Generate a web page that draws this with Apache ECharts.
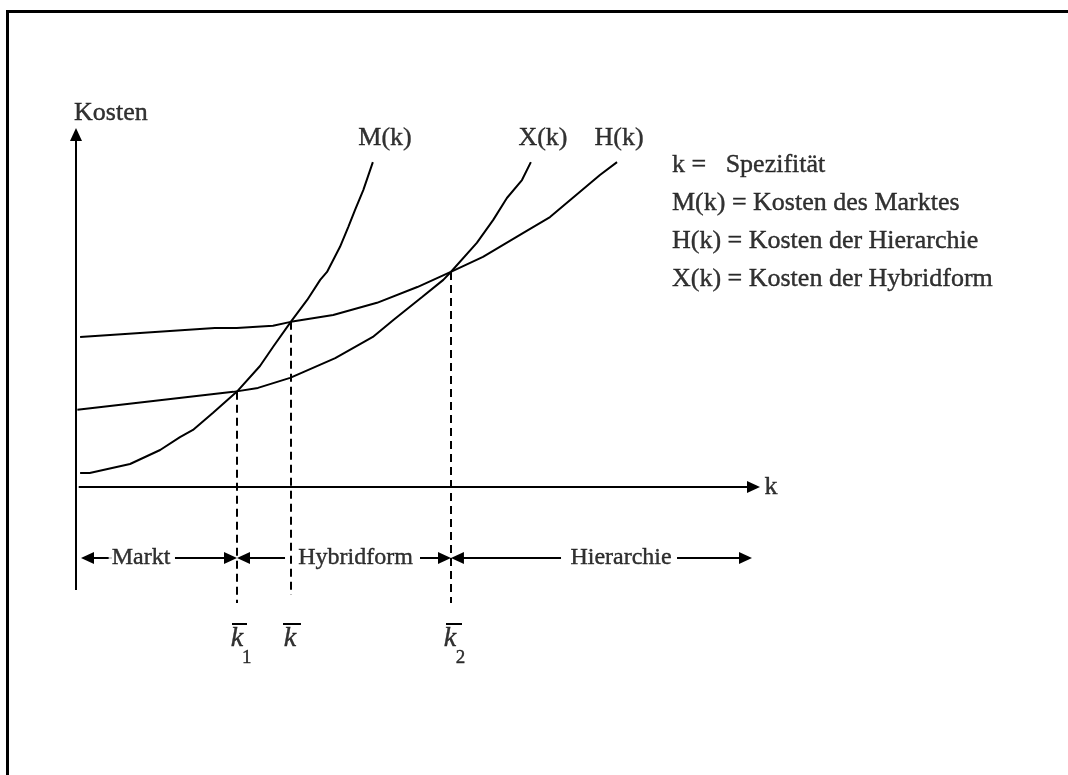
<!DOCTYPE html>
<html><head><meta charset="utf-8">
<script src="https://cdn.jsdelivr.net/npm/echarts@6/dist/echarts.min.js"></script>
<style>html,body{margin:0;padding:0;background:#fff}#c{width:1068px;height:775px}</style>
</head><body><div id="c"></div>
<script>
// Curves (k, cost)
const marketCost = [[0.6,3.9],[2.0,3.9],[7.9,6.4],[12.3,10.3],[15.2,13.9],[17.1,15.9],[20.0,20.6],[23.5,26.5],[26.9,33.7],[28.8,39.0],[31.4,46.0],[33.8,52.1],[35.7,57.7],[36.7,59.9],[38.6,66.9],[39.8,72.4],[40.8,77.2],[42.0,82.7],[43.4,90.5]];
const hybridCost = [[0.2,21.5],[23.0,26.5],[26.6,27.6],[31.3,30.4],[37.9,35.9],[43.4,41.8],[46.4,46.5],[50.6,52.9],[53.7,57.7],[54.8,59.9],[58.6,68.0],[61.0,74.4],[63.0,80.5],[65.2,85.5],[66.5,90.5]];
const hierarchyCost = [[0.6,41.8],[20.3,44.3],[23.5,44.3],[28.8,44.9],[31.4,46.0],[37.6,47.9],[44.0,51.3],[49.9,55.7],[54.8,59.9],[59.5,64.1],[65.4,70.8],[69.3,75.2],[76.6,86.9],[79.1,90.5]];

// Critical specificities and their intersection heights
const kPoints = [23.54, 31.43, 54.82];
const kTops = [26.5, 46.0, 59.9];
const kBottoms = [-32.3, -30.1, -32.3];

// Axes extents (end = centre of the arrowhead)
const axisY = [[0, -28.7], [0, 98.2]];
const axisX = [[0.4, 0], [99.05, 0]];

// Region arrows (from -> to, arrowhead centred at 'to')
const regionRowY = -19.8;
const regionSegments = [[5.26, 1.68], [14.47, 22.59], [30.56, 24.49], [50.29, 53.87], [70.91, 55.77], [87.87, 97.88]];
const regionNames = ['Markt', 'Hybridform', 'Hierarchie'];
const regionCenters = [9.5, 40.86, 79.68];

// Text labels
const curveLabels = [['M(k)', 45.18, 97.2], ['X(k)', 68.27, 97.2], ['H(k)', 79.39, 97.2]];
const axisLabels = [['Kosten', 5.1, 104.0], ['k', 101.6, 0]];
const legendLines = ['k =   Spezifität', 'M(k) = Kosten des Marktes', 'H(k) = Kosten der Hierarchie', 'X(k) = Kosten der Hybridform'];
const legendX = 87.13;
const legendY = [89.69, 79.11, 68.52, 57.94];
const kGlyphs = [['k', 23.54], ['k', 31.29], ['k', 54.68]];
const kGlyphY = -42.3;
const kSubs = [['1', 24.95], ['2', 56.2]];
const kSubY = -47.6;
const overlines = [[22.81, 25.0], [30.26, 32.89], [54.09, 56.43]];
const overlineY = -38.16;

const FONT = '"Liberation Serif", "Times New Roman", serif';
const chart = echarts.init(document.getElementById('c'), null, {renderer: 'canvas'});

function textSeries(items, opts) {
  return Object.assign({
    type: 'scatter', symbolSize: 0, silent: true, clip: false, z: 5,
    data: items.map(function (t) { return {name: t[0], value: [t[1], t[2]]}; }),
    label: Object.assign({
      show: true, position: 'inside', formatter: '{b}', color: '#000',
      textBorderColor: '#000', textBorderWidth: 0.4,
      fontFamily: FONT, fontSize: 26, align: 'center', verticalAlign: 'middle'
    }, opts.label || {})
  }, opts.extra || {});
}

const solid = {color: '#000', width: 2, type: 'solid'};

const option = {
  animation: false,
  backgroundColor: '#fff',
  grid: {left: 76, top: 92.1, width: 957.6, height: 610.3},
  xAxis: {type: 'value', min: 0, max: 140, show: false},
  yAxis: {type: 'value', min: -60, max: 110, show: false},
  graphic: [{
    type: 'polyline', silent: true,
    shape: {points: [[7.5, 775], [7.5, 11.5], [1068, 11.5]]},
    style: {stroke: '#000', lineWidth: 3, fill: null}
  }],
  series: [
    {type: 'line', name: 'M', data: marketCost, showSymbol: false, symbol: 'none', silent: true,
     lineStyle: solid,
     markLine: {
       silent: true, symbol: ['none', 'triangle'], symbolSize: [12, 13],
       label: {show: false}, lineStyle: solid, emphasis: {disabled: true},
       data: [
         [{coord: axisY[0]}, {coord: axisY[1]}],
         [{coord: axisX[0]}, {coord: axisX[1]}]
       ].concat(regionSegments.map(function (s) { return [{coord: [s[0], regionRowY]}, {coord: [s[1], regionRowY]}]; }))
     }},
    {type: 'line', name: 'X', data: hybridCost, showSymbol: false, symbol: 'none', silent: true,
     lineStyle: solid,
     markLine: {
       silent: true, symbol: ['none', 'none'], label: {show: false}, emphasis: {disabled: true},
       lineStyle: {color: '#000', width: 2, type: [8, 5]},
       data: kPoints.map(function (k, i) { return [{coord: [k, kTops[i]]}, {coord: [k, kBottoms[i]]}]; })
         .concat(overlines.map(function (o) { return [{coord: [o[0], overlineY], lineStyle: {type: 'solid', width: 2, color: '#000'}}, {coord: [o[1], overlineY]}]; }))
     }},
    {type: 'line', name: 'H', data: hierarchyCost, showSymbol: false, symbol: 'none', silent: true,
     lineStyle: solid},
    textSeries(curveLabels, {}),
    textSeries(axisLabels, {}),
    textSeries(legendLines.map(function (t, i) { return [t, legendX, legendY[i]]; }), {label: {align: 'left'}}),
    textSeries(regionNames.map(function (t, i) { return [t, regionCenters[i], regionRowY]; }),
      {label: {fontSize: 24, backgroundColor: '#fff', padding: [0, 3]}, extra: {z: 6}}),
    textSeries(kGlyphs.map(function (t) { return [t[0], t[1], kGlyphY]; }), {label: {fontStyle: 'italic', fontSize: 28}}),
    textSeries(kSubs.map(function (t) { return [t[0], t[1], kSubY]; }), {label: {fontSize: 19}})
  ]
};
chart.setOption(option);
</script>
</body></html>
